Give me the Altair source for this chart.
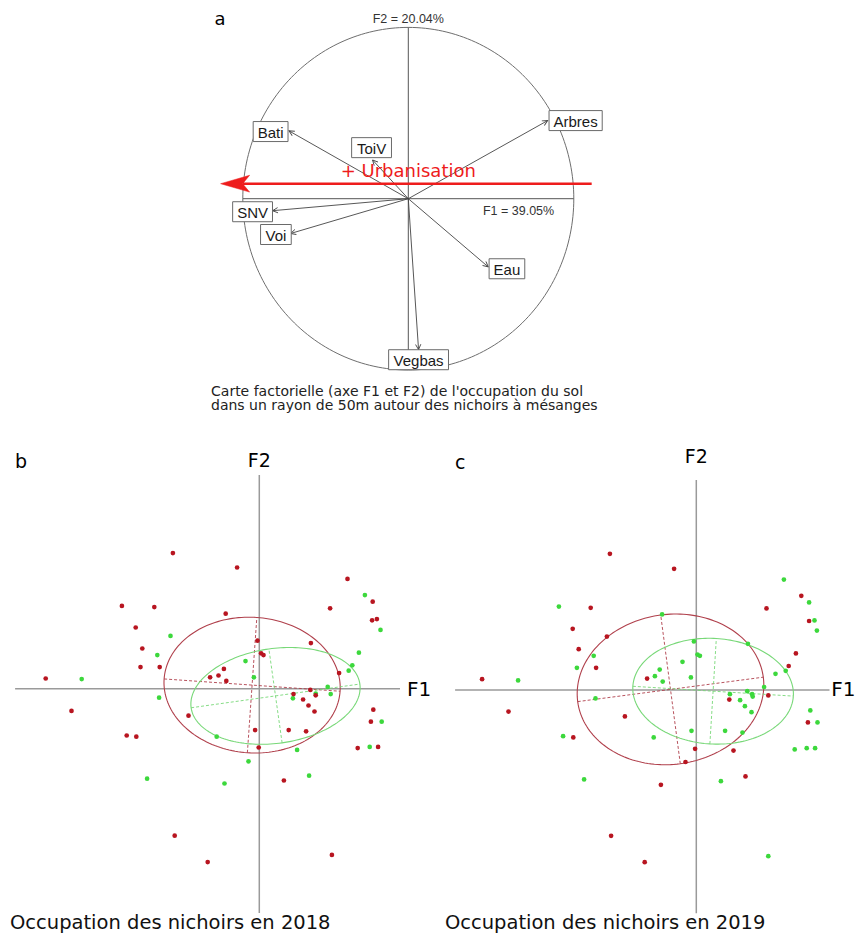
import altair as alt
import numpy as np
import pandas as pd

# ---------------- Panel a : correlation circle ----------------
var_names = ["Arbres", "Bati", "ToiV", "SNV", "Voi", "Eau", "Vegbas"]
load_f1 = [0.842, -0.721, -0.216, -0.820, -0.711, 0.483, 0.062]
load_f2 = [0.456, 0.396, 0.226, -0.070, -0.203, -0.398, -0.881]
label_f1 = [1.011, -0.832, -0.222, -0.941, -0.800, 0.596, 0.062]
label_f2 = [0.456, 0.392, 0.298, -0.076, -0.209, -0.409, -0.940]
axis_a_titles = ["F1 = 39.05%", "F2 = 20.04%"]

# ---------------- Panel b : 2018 ----------------
b_red_f1 = [-1.44, -0.37, 1.47, -2.29, -1.75, 1.18, 1.89, -0.56, 1.88, 1.96, -2.06, -1.95,
            -0.03, 0.03, 0.07, 0.86, -1.98, -1.66, -0.59, -0.82, -0.68, -0.55, 1.33, -3.56,
            0.85, 0.57, 0.73, 0.94, 0.82, 0.92, -3.13, 1.90, 1.86, -1.18, -0.07, 0.49,
            0.78, -2.21, -2.05, -0.01, 1.64, 1.98, 0.41, -1.41, -0.86, 1.21]
b_red_f2 = [2.26, 2.02, 1.83, 1.38, 1.36, 1.34, 1.45, 1.25, 1.14, 1.16, 1.02, 0.67,
            0.80, 0.59, 0.56, 0.76, 0.36, 0.36, 0.33, 0.19, 0.22, 0.13, 0.26, 0.17,
            -0.02, -0.09, -0.18, -0.11, -0.28, -0.38, -0.37, -0.35, -0.55, -0.45, -0.69, -0.69,
            -0.71, -0.78, -0.80, -0.98, -0.99, -0.97, -1.53, -2.45, -2.89, -2.77]
b_green_f1 = [1.76, 2.02, -1.48, 1.66, -1.70, -0.23, 1.55, 1.49, -2.96, -0.09, 1.14, 1.19,
              0.94, 0.56, -1.67, 2.04, -0.71, 0.63, 1.84, -0.18, -1.87, -0.58, 0.83]
b_green_f2 = [1.56, 0.98, 0.88, 0.60, 0.56, 0.46, 0.39, 0.30, 0.16, 0.19, 0.03, -0.09,
              -0.08, -0.16, -0.15, -0.55, -0.80, -1.02, -0.97, -1.21, -1.50, -1.58, -1.45]
# ellipses: centre F1, centre F2, semi-major, semi-minor, angle (deg)
b_red_ellipse = [-0.12, 0.06, 1.47, 1.13, -4.0]
b_green_ellipse = [0.27, -0.12, 1.42, 0.79, 8.0]

# ---------------- Panel c : 2019 ----------------
c_red_f1 = [-1.44, -0.37, -1.76, 1.17, 1.75, 1.88, -2.06, -1.49, -1.96, 1.66, 1.54, -1.67,
            -0.82, -3.57, 0.55, 1.20, -3.13, -1.19, 1.86, -2.05, -0.02, 0.62, -0.18, 0.82,
            -0.59, -1.42, -0.86]
c_red_f2 = [2.27, 2.02, 1.37, 1.36, 1.57, 1.15, 1.02, 0.89, 0.68, 0.61, 0.40, 0.37,
            0.19, 0.18, -0.16, -0.09, -0.36, -0.44, -0.54, -0.79, -0.98, -1.01, -1.20, -1.44,
            -1.58, -2.43, -2.87]
c_green_f1 = [1.46, 1.88, 1.97, 2.01, -2.29, -0.57, 0.86, -0.04, 0.02, 0.06, -1.71, -0.23,
              -1.99, -0.61, -0.69, -0.56, -0.09, 1.49, 1.32, -2.97, 1.13, -1.68, 0.56, 0.85,
              0.93, 0.94, 0.73, 0.81, 0.92, 1.90, 2.02, -2.22, -0.71, -0.08, 0.48, 0.77,
              1.64, 1.84, 1.98, -1.87, 0.41, 1.20]
c_green_f2 = [1.84, 1.46, 1.16, 0.99, 1.39, 1.26, 0.77, 0.81, 0.59, 0.57, 0.57, 0.47,
              0.37, 0.34, 0.23, 0.14, 0.21, 0.32, 0.27, 0.16, 0.05, -0.14, -0.07, -0.02,
              -0.07, -0.11, -0.17, -0.27, -0.37, -0.34, -0.54, -0.77, -0.79, -0.68, -0.68, -0.71,
              -0.99, -0.97, -0.97, -1.49, -1.52, -2.77]
c_red_ellipse = [-0.43, 0.01, 1.56, 1.25, 7.5]
c_green_ellipse = [0.28, -0.02, 1.34, 0.88, -3.5]

captions = ["Occupation des nichoirs en 2018", "Occupation des nichoirs en 2019"]
caption_a = ["Carte factorielle (axe F1 et F2) de l'occupation du sol",
             "dans un rayon de 50m autour des nichoirs à mésanges"]

# ---------------- layout helpers ----------------
W, H = 849, 926
MARGIN = 8


def scales(ox, oy, ppx, ppy):
    cx, cy = ox - MARGIN, oy - MARGIN
    xs = alt.Scale(domain=[-cx / ppx, (W - cx) / ppx], nice=False, zero=False)
    ys = alt.Scale(domain=[(cy - H) / ppy, cy / ppy], nice=False, zero=False)
    return xs, ys


def enc(xs, ys, x="x", y="y", x2=None, y2=None, **kw):
    e = dict(x=alt.X(f"{x}:Q", scale=xs, axis=None), y=alt.Y(f"{y}:Q", scale=ys, axis=None))
    if x2:
        e["x2"] = alt.X2(f"{x2}:Q")
    if y2:
        e["y2"] = alt.Y2(f"{y2}:Q")
    e.update(kw)
    return e


def text_layer(rows, xs, ys, font, size, color="#000000", align="left", baseline="middle"):
    df = pd.DataFrame(rows, columns=["x", "y", "t"])
    return alt.Chart(df).mark_text(font=font, fontSize=size, color=color, align=align,
                                   baseline=baseline).encode(**enc(xs, ys, text="t:N"))


def ellipse_df(p, n=180):
    cx, cy, a, b, ang = p
    t = np.linspace(0, 2 * np.pi, n + 1)
    th = np.radians(ang)
    x = cx + a * np.cos(t) * np.cos(th) - b * np.sin(t) * np.sin(th)
    y = cy + a * np.cos(t) * np.sin(th) + b * np.sin(t) * np.cos(th)
    return pd.DataFrame({"x": x, "y": y, "o": np.arange(n + 1)})


def ellipse_axes_df(p):
    cx, cy, a, b, ang = p
    th = np.radians(ang)
    return pd.DataFrame({
        "x": [cx - a * np.cos(th), cx + b * np.sin(th)],
        "y": [cy - a * np.sin(th), cy - b * np.cos(th)],
        "x2": [cx + a * np.cos(th), cx - b * np.sin(th)],
        "y2": [cy + a * np.sin(th), cy + b * np.cos(th)],
    })


SANS = "DejaVu Sans"
ARIAL = "Liberation Sans"

# ---------------- build panel a ----------------
PXA, PYA = 165.5, 171.3
xa, ya = scales(408.3, 198.7, PXA, PYA)

t = np.linspace(0, 2 * np.pi, 241)
circle = alt.Chart(pd.DataFrame({"x": np.cos(t), "y": np.sin(t), "o": np.arange(241)})).mark_line(
    stroke="#6e6e6e", strokeWidth=1).encode(**enc(xa, ya, order="o:Q"))

axes_a = alt.Chart(pd.DataFrame({"x": [-1.0, 0.0], "y": [0.0, -1.0], "x2": [1.0, 0.0], "y2": [0.0, 1.0]})
                   ).mark_rule(stroke="#555555", strokeWidth=1).encode(**enc(xa, ya, x2="x2", y2="y2"))

arr = pd.DataFrame({"v": var_names, "x2": load_f1, "y2": load_f2})
arr["x"] = 0.0
arr["y"] = 0.0
arr["ang"] = (np.degrees(np.arctan2(arr["x2"] * PXA, arr["y2"] * PYA)) + 360) % 360
arrows = alt.Chart(arr).mark_rule(stroke="#444444", strokeWidth=0.9).encode(
    **enc(xa, ya, x2="x2", y2="y2"))
heads = alt.Chart(arr).mark_point(shape="M-0.5,1L0,0L0.5,1", filled=False, stroke="#444444",
                                  strokeWidth=0.9, size=110, opacity=1).encode(
    **enc(xa, ya, x="x2", y="y2", angle=alt.Angle("ang:Q", scale=None)))

# label boxes: width from Arial glyph widths
glyph = {"A": .667, "r": .333, "b": .556, "e": .556, "s": .5, "B": .667, "a": .556, "t": .278,
         "i": .222, "T": .611, "o": .556, "V": .667, "S": .667, "N": .722, "E": .667, "u": .556,
         "g": .556}
lab = pd.DataFrame({"v": var_names, "x": label_f1, "y": label_f2})
half_w = lab["v"].map(lambda s: (sum(glyph.get(c, .56) for c in s) * 15 + 9) / 2 / PXA)
half_h = 10 / PYA
lab["x1"] = lab["x"] - half_w
lab["x2"] = lab["x"] + half_w
lab["y1"] = lab["y"] - half_h
lab["y2"] = lab["y"] + half_h
boxes = alt.Chart(lab).mark_rect(fill="white", stroke="#6a6a6a", strokeWidth=1).encode(
    **enc(xa, ya, x="x1", y="y1", x2="x2", y2="y2"))
labels = alt.Chart(lab).mark_text(font=ARIAL, fontSize=15, color="#1a1a1a", baseline="middle",
                                  dy=1).encode(**enc(xa, ya, text="v:N"))

urb_y = 0.0876
red_line = alt.Chart(pd.DataFrame({"x": [1.108], "y": [urb_y], "x2": [-1.0]})).mark_rule(
    stroke="#ee1c1c", strokeWidth=2.6).encode(**enc(xa, ya, x2="x2"))
red_head = alt.Chart(pd.DataFrame({"x": [-1.134], "y": [urb_y]})).mark_point(
    shape="M0,0L1,-0.29L0.76,0L1,0.29Z", filled=True, fill="#ee1c1c", stroke="#ee1c1c",
    strokeWidth=0.5, size=3364, opacity=1).encode(**enc(xa, ya))

txt_a = [
    text_layer([(-1.138, 1.094, "a")], xa, ya, SANS, 18, align="center", baseline="top"),
    text_layer([(0.0, 1.049, axis_a_titles[1])], xa, ya, ARIAL, 12.5, "#333333", align="center"),
    text_layer([(0.451, -0.070, axis_a_titles[0])], xa, ya, ARIAL, 12.5, "#333333"),
    text_layer([(0.0, 0.158, "+ Urbanisation")], xa, ya, SANS, 18, "#ee1c1c", align="center"),
    text_layer([(-1.192, -1.128, caption_a[0]), (-1.192, -1.212, caption_a[1])], xa, ya, SANS, 14,
               "#222222"),
]

panel_a = alt.layer(circle, axes_a, arrows, heads, boxes, labels, red_line, red_head, *txt_a)

# ---------------- panels b & c ----------------
RED = "#b81520"
GREEN = "#3cd83c"
RED_E = "#b0404c"
GREEN_E = "#78d878"


def scatter_panel(ox, oy, red_f1, red_f2, green_f1, green_f2, red_e, green_e, ann):
    xs, ys = scales(ox, oy, 60, 60)
    (hx1, hx2), (vy1, vy2) = ann["h"], ann["v"]
    axes = alt.Chart(pd.DataFrame({"x": [hx1, 0.0], "y": [0.0, vy1], "x2": [hx2, 0.0], "y2": [0.0, vy2]})
                     ).mark_rule(stroke="#9a9a9a", strokeWidth=1.5).encode(**enc(xs, ys, x2="x2", y2="y2"))
    layers = [axes]
    for p, col in ((red_e, RED_E), (green_e, GREEN_E)):
        layers.append(alt.Chart(ellipse_df(p)).mark_line(stroke=col, strokeWidth=1.1).encode(
            **enc(xs, ys, order="o:Q")))
        layers.append(alt.Chart(ellipse_axes_df(p)).mark_rule(
            stroke=col, strokeWidth=0.9, strokeDash=[3, 2]).encode(**enc(xs, ys, x2="x2", y2="y2")))
    layers.append(alt.Chart(pd.DataFrame({"x": green_f1, "y": green_f2})).mark_circle(
        size=22, color=GREEN, opacity=1).encode(**enc(xs, ys)))
    layers.append(alt.Chart(pd.DataFrame({"x": red_f1, "y": red_f2})).mark_circle(
        size=22, color=RED, opacity=1).encode(**enc(xs, ys)))
    layers.append(text_layer([ann["letter"]], xs, ys, SANS, 19, baseline="alphabetic"))
    layers.append(text_layer([ann["F2"]], xs, ys, SANS, 19, align="center", baseline="alphabetic"))
    layers.append(text_layer([ann["F1"]], xs, ys, SANS, 20))
    layers.append(text_layer([ann["cap"]], xs, ys, SANS, 19.5, "#111111"))
    return alt.layer(*layers)


panel_b = scatter_panel(
    259.3, 688.7, b_red_f1, b_red_f2, b_green_f1, b_green_f2, b_red_ellipse, b_green_ellipse,
    dict(h=(-4.07, 2.345), v=(-3.74, 3.56), letter=(-4.07, 3.678, "b"), F2=(0.0, 3.695, "F2"),
         F1=(2.46, -0.02, "F1"), cap=(-4.155, -3.905, captions[0])))
panel_c = scatter_panel(
    696.3, 690.0, c_red_f1, c_red_f2, c_green_f1, c_green_f2, c_red_ellipse, c_green_ellipse,
    dict(h=(-4.02, 2.22), v=(-3.72, 3.5), letter=(-4.02, 3.683, "c"), F2=(0.0, 3.783, "F2"),
         F1=(2.25, 0.0, "F1"), cap=(-4.19, -3.883, captions[1])))

chart = alt.layer(panel_a, panel_b, panel_c).resolve_scale(
    x="independent", y="independent"
).properties(
    width=W, height=H, autosize=alt.AutoSizeParams(type="none"), padding=0, background="white"
).configure_view(stroke=None)

chart.save("out.html", embed_options={"renderer": "svg", "actions": False})
